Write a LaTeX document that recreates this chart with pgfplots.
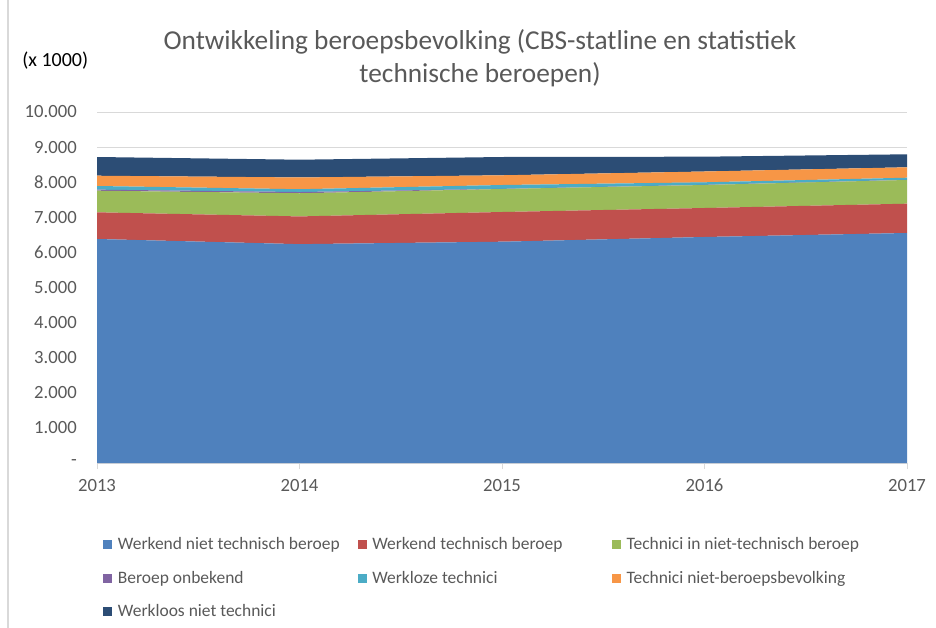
\documentclass[border=0pt]{standalone}
\usepackage{fontspec}
\setmainfont{Carlito}
\usepackage{pgfplots}
\pgfplotsset{compat=1.18}
\newlength\px
\setlength\px{0.75pt}
\definecolor{cblue}{HTML}{4F81BD}
\definecolor{cred}{HTML}{C0504D}
\definecolor{cgreen}{HTML}{9BBB59}
\definecolor{cpurple}{HTML}{8064A2}
\definecolor{ccyan}{HTML}{4BACC6}
\definecolor{corange}{HTML}{F79646}
\definecolor{cdark}{HTML}{2C4D75}
\definecolor{ctext}{HTML}{595959}
\definecolor{cgrid}{HTML}{D9D9D9}

\begin{document}
\begin{tikzpicture}
\path[use as bounding box] (0,0) rectangle (936\px,-628\px);
\draw[cgrid, line width=1.5\px] (8\px,0) -- (8\px,-628\px);

\node[anchor=base, font=\fontsize{20.5}{24}\selectfont, text=ctext] at (480\px,-50\px)
  {Ontwikkeling beroepsbevolking (CBS-statline en statistiek};
\node[anchor=base, font=\fontsize{20.5}{24}\selectfont, text=ctext] at (480\px,-82\px)
  {technische beroepen)};
\node[anchor=base west, inner sep=0pt, font=\fontsize{15}{18}\selectfont] at (22\px,-66\px) {(x 1000)};

\begin{axis}[
  at={(97\px,-463\px)}, anchor=south west,
  scale only axis, width=810\px, height=351\px,
  xmin=2013, xmax=2017, ymin=0, ymax=10000,
  stack plots=y,
  scaled y ticks=false,
  axis x line*=bottom, axis y line*=left,
  x axis line style={draw=cgrid, line width=1\px, -},
  y axis line style={draw=none},
  ytick style={draw=none},
  xtick style={draw=cgrid, line width=1\px},
  tick align=outside, major tick length=6\px,
  ymajorgrids, grid style={draw=cgrid, line width=1\px},
  xtick={2013,2014,2015,2016,2017},
  xticklabels={2013,2014,2015,2016,2017},
  ytick={0,1000,2000,3000,4000,5000,6000,7000,8000,9000,10000},
  yticklabels={-,1.000,2.000,3.000,4.000,5.000,6.000,7.000,8.000,9.000,10.000},
  tick label style={font=\fontsize{14}{17}\selectfont, text=ctext},
  yticklabel style={anchor=east, inner sep=0pt, xshift=-14\px},
  xticklabel style={anchor=north, inner sep=0pt, yshift=-10\px},
  legend columns=3,
  legend cell align=left,
  legend style={draw=none, fill=none, inner sep=0pt,
    at={(0.0074,-0.204)}, anchor=north west,
    font=\fontsize{13.1}{16}\selectfont, text=ctext,
    row sep=14\px,
    /tikz/every odd column/.style={column sep=3\px}},
  legend image code/.code={\fill[#1] (0,-4.5\px) rectangle (9\px,4.5\px);},
]
\addplot[fill=cblue, draw=none] coordinates {(2013,6382) (2014,6235) (2015,6305) (2016,6439) (2017,6553)} \closedcycle;
\addplot[fill=cred, draw=none] coordinates {(2013,760) (2014,790) (2015,846) (2016,826) (2017,835)} \closedcycle;
\addplot[fill=cgreen, draw=none] coordinates {(2013,616) (2014,660) (2015,655) (2016,655) (2017,675)} \closedcycle;
\addplot[fill=cpurple, draw=none] coordinates {(2013,30) (2014,35) (2015,5) (2016,5) (2017,5)} \closedcycle;
\addplot[fill=ccyan, draw=none] coordinates {(2013,104) (2014,80) (2015,109) (2016,72) (2017,60)} \closedcycle;
\addplot[fill=corange, draw=none] coordinates {(2013,293) (2014,335) (2015,277) (2016,308) (2017,297)} \closedcycle;
\addplot[fill=cdark, draw=none] coordinates {(2013,533) (2014,506) (2015,521) (2016,422) (2017,370)} \closedcycle;
\legend{\makebox[237\px][l]{Werkend niet technisch beroep},
  \makebox[237\px][l]{Werkend technisch beroep},
  \makebox[237\px][l]{Technici in niet-technisch beroep},
  \makebox[237\px][l]{Beroep onbekend},
  \makebox[237\px][l]{Werkloze technici},
  \makebox[237\px][l]{Technici niet-beroepsbevolking},
  \makebox[237\px][l]{Werkloos niet technici}}
\end{axis}
\end{tikzpicture}
\end{document}
